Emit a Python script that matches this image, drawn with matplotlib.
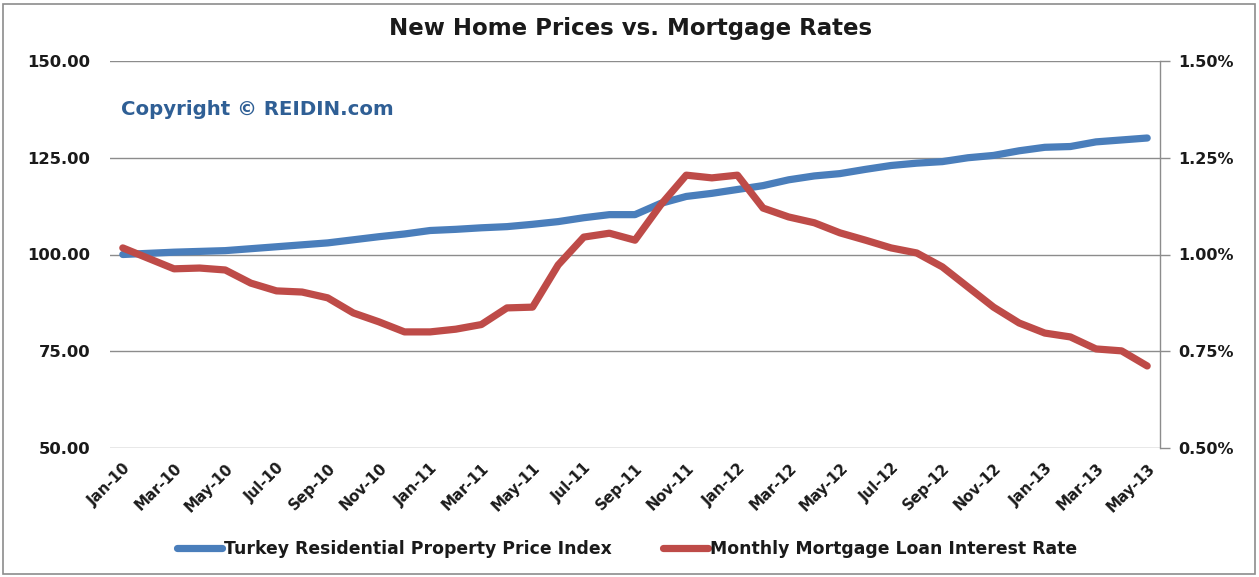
import matplotlib
matplotlib.use("Agg")
import matplotlib.pyplot as plt
from matplotlib.patches import Rectangle
from matplotlib.ticker import FuncFormatter

months = ["Jan-10","Feb-10","Mar-10","Apr-10","May-10","Jun-10","Jul-10","Aug-10","Sep-10","Oct-10","Nov-10","Dec-10",
          "Jan-11","Feb-11","Mar-11","Apr-11","May-11","Jun-11","Jul-11","Aug-11","Sep-11","Oct-11","Nov-11","Dec-11",
          "Jan-12","Feb-12","Mar-12","Apr-12","May-12","Jun-12","Jul-12","Aug-12","Sep-12","Oct-12","Nov-12","Dec-12",
          "Jan-13","Feb-13","Mar-13","Apr-13","May-13"]

price_index = [100.0, 100.3, 100.6, 100.8, 101.0, 101.5, 102.0, 102.5, 103.0, 103.8, 104.6, 105.3,
               106.2, 106.5, 106.9, 107.2, 107.8, 108.5, 109.5, 110.3, 110.3, 113.2, 115.0, 115.8,
               116.8, 117.8, 119.3, 120.3, 120.9, 122.0, 123.0, 123.6, 124.0, 125.0, 125.6, 126.8,
               127.7, 127.9, 129.1, 129.6, 130.1]

mortgage_rate = [1.017, 0.99, 0.963, 0.965, 0.96, 0.926, 0.906, 0.903, 0.888, 0.849, 0.826, 0.80,
                 0.80, 0.807, 0.819, 0.862, 0.864, 0.973, 1.045, 1.055, 1.037, 1.128, 1.205, 1.198,
                 1.205, 1.12, 1.097, 1.082, 1.056, 1.037, 1.017, 1.004, 0.968, 0.916, 0.864, 0.823,
                 0.797, 0.787, 0.756, 0.751, 0.712]

left_ticks = [50, 75, 100, 125, 150]
right_ticks = [0.50, 0.75, 1.00, 1.25, 1.50]

title = "New Home Prices vs. Mortgage Rates"
watermark = "Copyright \u00a9 REIDIN.com"
label_price = "Turkey Residential Property Price Index"
label_rate = "Monthly Mortgage Loan Interest Rate"

blue = "#4A7EBB"
red = "#BE4B48"
font = "DejaVu Sans"

W, H = 1259, 577
fig = plt.figure(figsize=(W/100, H/100), dpi=100)
fig.patch.set_facecolor("white")

# outer frame
fig.add_artist(Rectangle((3/W, 3/H), (W-7)/W, (H-7)/H, transform=fig.transFigure,
                         fill=False, edgecolor="#8C8C8C", linewidth=1.2))

left, right, top, bottom = 110, 1160, 61, 448
ax = fig.add_axes([left/W, 1-bottom/H, (right-left)/W, (bottom-top)/H])
ax2 = ax.twinx()

x = list(range(len(months)))
ax.plot(x, price_index, color=blue, linewidth=5.2, solid_capstyle="round", solid_joinstyle="round", zorder=3)
ax2.plot(x, mortgage_rate, color=red, linewidth=5.2, solid_capstyle="round", solid_joinstyle="round", zorder=3)

ax.set_xlim(-0.5, len(months)-0.5)
ax.set_ylim(50, 150)
ax2.set_ylim(0.5, 1.5)
ax.set_yticks(left_ticks)
ax2.set_yticks(right_ticks)
ax.yaxis.set_major_formatter(FuncFormatter(lambda v, p: f"{v:.2f}"))
ax2.yaxis.set_major_formatter(FuncFormatter(lambda v, p: f"{v:.2f}%"))

ax.grid(axis="y", color="#8C8C8C", linewidth=1.0)
ax.set_axisbelow(True)
for s in ["top", "left", "bottom"]:
    ax.spines[s].set_visible(False)
    ax2.spines[s].set_visible(False)
ax.spines["right"].set_visible(False)
ax2.spines["right"].set_color("#8C8C8C")
ax2.spines["right"].set_linewidth(1.0)

ax.tick_params(axis="y", length=0, pad=14, labelsize=11.8, labelcolor="#1a1a1a")
ax2.tick_params(axis="y", length=7, width=1.0, color="#8C8C8C", pad=6, labelsize=11.5, labelcolor="#1a1a1a")
for lab in ax.get_yticklabels() + ax2.get_yticklabels():
    lab.set_fontfamily(font)
    lab.set_fontweight("bold")

ax.set_xticks(x[::2])
ax.set_xticklabels(months[::2], rotation=45, ha="right", rotation_mode="anchor",
                   fontsize=10.8, fontweight="bold", fontfamily=font, color="#1a1a1a")
ax.tick_params(axis="x", length=0, pad=9)

fig.text(631/W, 1-28/H, title, ha="center", va="center", fontsize=16.5, fontweight="bold",
         fontfamily=font, color="#1a1a1a")
fig.text(121/W, 1-110/H, watermark, ha="left", va="center", fontsize=14.2, fontweight="bold",
         fontfamily=font, color="#2F5F95")

h1, = ax.plot([], [], color=blue, linewidth=5.2, solid_capstyle="round")
h2, = ax.plot([], [], color=red, linewidth=5.2, solid_capstyle="round")
leg = fig.legend([h1, h2], [label_price, label_rate], loc="center", bbox_to_anchor=(627/W, 1-549/H),
                 ncol=2, frameon=False, handlelength=2.6, handletextpad=0.1, columnspacing=3.0,
                 prop={"family": font, "weight": "bold", "size": 12.4})
for t in leg.get_texts():
    t.set_color("#1a1a1a")

fig.savefig("out.png", dpi=100, facecolor="white")
